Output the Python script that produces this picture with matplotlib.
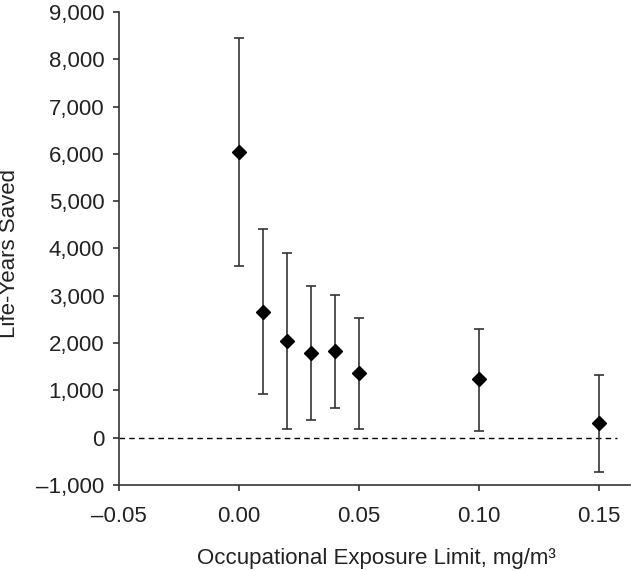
import matplotlib
matplotlib.use('Agg')
import matplotlib.pyplot as plt
from matplotlib.ticker import FuncFormatter, MultipleLocator

# data
limits = [0.00, 0.01, 0.02, 0.03, 0.04, 0.05, 0.10, 0.15]
life_years = [6030, 2650, 2040, 1790, 1830, 1360, 1230, 300]
upper = [8440, 4400, 3900, 3210, 3020, 2530, 2300, 1330]
lower = [3630, 910, 180, 370, 630, 170, 135, -725]

plt.rcParams['font.family'] = ['Liberation Sans', 'DejaVu Sans']

fig = plt.figure(figsize=(6.31, 5.71), dpi=100)
ax = fig.add_axes([0.189, 0.151, 0.81, 0.828])

err_lo = [v - lo for v, lo in zip(life_years, lower)]
err_hi = [hi - v for v, hi in zip(life_years, upper)]

ax.plot([-0.05, 0.1575], [0, 0], color='black', linestyle=(0, (4, 3)), linewidth=1)
ax.errorbar(limits, life_years, yerr=[err_lo, err_hi], fmt='D', color='black',
            markersize=7, ecolor='#333333', elinewidth=1.2, capsize=3.5, capthick=1.2)

ax.set_xlim(-0.05, 0.163)
ax.set_ylim(-1000, 9000)
ax.xaxis.set_major_locator(MultipleLocator(0.05))
ax.yaxis.set_major_locator(MultipleLocator(1000))


def fmt_x(v, pos):
    s = '{:.2f}'.format(abs(v))
    return ('\u2013' + s) if v < -1e-9 else s


def fmt_y(v, pos):
    s = '{:,.0f}'.format(abs(v))
    return ('\u2013' + s) if v < -1e-9 else s


ax.xaxis.set_major_formatter(FuncFormatter(fmt_x))
ax.yaxis.set_major_formatter(FuncFormatter(fmt_y))

ax.spines['top'].set_visible(False)
ax.spines['right'].set_visible(False)
for sp in ['left', 'bottom']:
    ax.spines[sp].set_color('#333333')
    ax.spines[sp].set_linewidth(1.2)
ax.tick_params(direction='out', length=4.5, width=1.2, colors='#333333', labelsize=16,
               labelcolor='#222222')
ax.tick_params(axis='y', pad=6.3)
ax.tick_params(axis='x', pad=11)

ax.set_xlabel('Occupational Exposure Limit, mg/m\u00b3', fontsize=16, color='#222222')
ax.set_ylabel('Life-Years Saved', fontsize=16, color='#222222')
ax.xaxis.set_label_coords(0.503, -0.134)
ax.yaxis.set_label_coords(-0.194, 0.49)

plt.savefig('out.png', dpi=100)
plt.close()
